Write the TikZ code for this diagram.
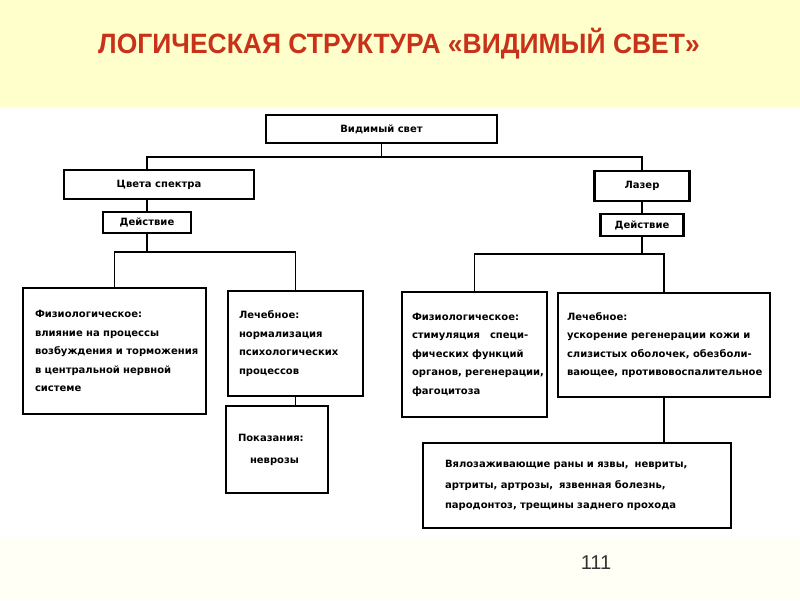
\documentclass[tikz,border=0pt]{standalone}
\usepackage{fontspec}
\setmainfont{DejaVu Sans}
\newfontfamily\titlefont{Liberation Sans}
\usepackage{tikz}
\newcommand{\boxWidth}[0]{2.4pt}
\newcommand{\linkWidth}[0]{1.8pt}
\newcommand{\boxFont}[0]{\bfseries\fontsize{10}{18.5}\selectfont}
\definecolor{titlered}{HTML}{C8321A}
\definecolor{bandyellow}{HTML}{FFFFCC}
\definecolor{bandcream}{HTML}{FFFFF6}
\definecolor{pagegray}{HTML}{333333}

\begin{document}
\begin{tikzpicture}[x=1pt, y=-1pt]
  \tikzset{block/.style={draw, line width=\boxWidth, rectangle, inner sep=0pt, font=\boxFont},
    textblock/.style={block, align=left, inner ysep=0pt},
    link/.style={line width=\linkWidth}}
  \useasboundingbox (0,0) rectangle (800,600);
  \fill[bandyellow] (0,0) rectangle (800,107);
  \fill[white] (0,107) rectangle (800,538);
  \fill[bandcream] (0,538) rectangle (800,600);
  \node[anchor=base, text=titlered, font=\titlefont\bfseries\fontsize{28}{30}\selectfont] (title) at (399,53) {\scalebox{0.945}[1]{ЛОГИЧЕСКАЯ СТРУКТУРА «ВИДИМЫЙ СВЕТ»}};
  \node[anchor=base, text=pagegray, font=\titlefont\fontsize{20}{22}\selectfont] (page) at (596,569) {111};
  \node[block, minimum width=231pt, minimum height=28pt] (vis) at (381.5,129) {Видимый свет};
  \node[block, minimum width=190pt, minimum height=29pt] (spec) at (159,184.5) {Цвета спектра};
  \node[block, minimum width=88pt, minimum height=21pt] (act1) at (147,222.5) {Действие};
  \node[block, minimum width=95pt, minimum height=30pt] (laser) at (642,186) {Лазер};
  \node[block, minimum width=83pt, minimum height=22pt] (act2) at (642,225) {Действие};
  \node[textblock, inner xsep=12pt, text width=159pt, minimum height=126pt] (phys1) at (114.5,351)
    {Физиологическое:\\влияние на процессы\\\mbox{возбуждения и торможения}\\в центральной нервной\\системе};
  \node[textblock, inner xsep=11pt, text width=113pt, minimum height=105pt] (med1) at (295.5,343.5)
    {Лечебное:\\нормализация\\психологических\\процессов};
  \node[textblock, inner xsep=12pt, text width=78pt, minimum height=87pt, font=\bfseries\fontsize{10}{22}\selectfont] (ind1) at (277,449.5)
    {Показания:\\\hspace*{12pt}неврозы\\[-8pt]};
  \node[textblock, inner xsep=10pt, text width=125pt, minimum height=125pt] (phys2) at (474.5,354.5)
    {Физиологическое:\\стимуляция\hspace{1em}специ-\\фических функций\\\mbox{органов, регенерации,}\\фагоцитоза};
  \node[textblock, inner xsep=9pt, text width=194pt, minimum height=104pt] (med2) at (664,345)
    {Лечебное:\\\mbox{ускорение регенерации кожи и}\\\mbox{слизистых оболочек, обезболи-}\\\mbox{вающее, противовоспалительное}};
  \node[textblock, inner xsep=22pt, text width=264pt, minimum height=85pt, font=\bfseries\fontsize{10}{20.5}\selectfont] (ind2) at (577,485.5)
    {Вялозаживающие раны и язвы,\hspace{0.6em}невриты,\\артриты, артрозы,\hspace{0.6em}язвенная болезнь,\\пародонтоз, трещины заднего прохода};
  \coordinate (topbus) at (381,157);
  \coordinate (leftbus) at (146,252);
  \coordinate (rightbus) at (642,254);
  \draw[link] (vis.south) -- (vis.south |- topbus);
  \draw[link] (act1.north |- spec.north) |- (laser.north |- topbus) -- (laser.north);
  \draw[link] (act1.north |- spec.south) -- (act1.north);
  \draw[link] (laser.south) -- (act2.north);
  \draw[link] (act1.south) -- (act1.south |- leftbus);
  \draw[link] (phys1.north) |- (med1.north |- leftbus) -- (med1.north);
  \draw[link] (act2.south) -- (act2.south |- rightbus);
  \draw[link] (phys2.north) |- (med2.north |- rightbus) -- (med2.north);
  \draw[link] (med1.south) -- (med1.south |- ind1.north);
  \draw[link] (med2.south) -- (med2.south |- ind2.north);
\end{tikzpicture}
\end{document}
